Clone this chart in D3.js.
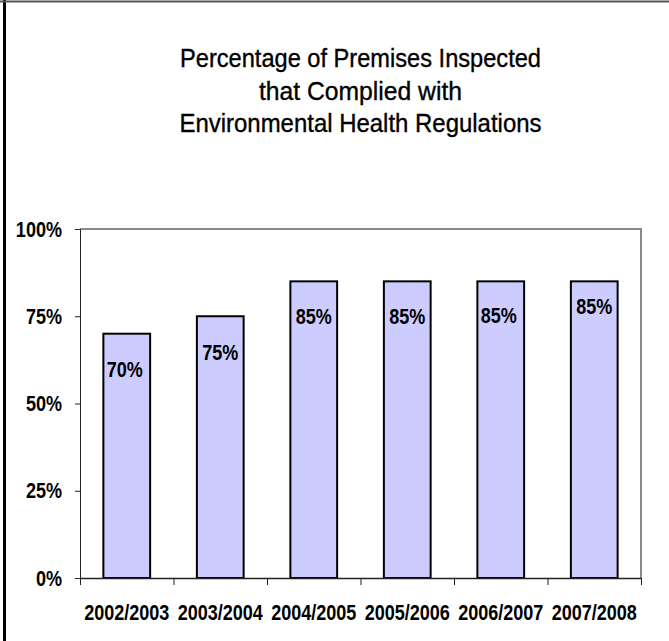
<!DOCTYPE html>
<html>
<head>
<meta charset="utf-8">
<script src="https://cdn.jsdelivr.net/npm/d3@7"></script>
<style>
  html, body { margin: 0; padding: 0; background: #fff; }
  svg { display: block; }
</style>
</head>
<body>
<svg id="chart" width="669" height="641"></svg>
<script>
const categories = ["2002/2003", "2003/2004", "2004/2005", "2005/2006", "2006/2007", "2007/2008"];
const values = [70, 75, 85, 85, 85, 85];
const yTicks = [0, 25, 50, 75, 100];
const titleLines = ["Percentage of Premises Inspected", "that Complied with", "Environmental Health Regulations"];

const W = 669, H = 641;
const plot = { left: 80, right: 641, top: 229, bottom: 578 };
const fontFam = "'Liberation Sans Narrow', 'Arial Narrow', 'Liberation Sans', Arial, sans-serif";
const NARROW = 0.82;

const svg = d3.select("#chart");

// outer frame (left and top edges)
svg.append("line").attr("x1", 4.5).attr("x2", 4.5).attr("y1", 0).attr("y2", H)
  .attr("stroke", "#000").attr("stroke-width", 3);
svg.append("line").attr("x1", 0).attr("x2", W).attr("y1", 1.5).attr("y2", 1.5)
  .attr("stroke", "#555").attr("stroke-width", 2);

// title
const titleBaselines = [67, 99.5, 132];
const titleWidths = [361, 203, 362];
svg.append("g").selectAll("text").data(titleLines).join("text")
  .attr("x", (plot.left + plot.right) / 2)
  .attr("y", (d, i) => titleBaselines[i])
  .attr("text-anchor", "middle")
  .attr("textLength", (d, i) => titleWidths[i])
  .attr("lengthAdjust", "spacingAndGlyphs")
  .style("font-family", fontFam)
  .style("font-size", "25px")
  .style("stroke", "#000")
  .style("stroke-width", 0.35)
  .style("fill", "#000")
  .text(d => d);

const x = d3.scaleBand().domain(categories).range([plot.left, plot.right]).paddingInner(0.5).paddingOuter(0.25);
const y = d3.scaleLinear().domain([0, 100]).range([plot.bottom, plot.top]);

// plot frame: top & right gray
svg.append("path")
  .attr("d", `M${plot.left},${plot.top}H${plot.right}V${plot.bottom}`)
  .attr("fill", "none").attr("stroke", "#8a8a8a").attr("stroke-width", 2);

// bars
svg.append("g").selectAll("rect").data(values).join("rect")
  .attr("x", (d, i) => x(categories[i]))
  .attr("y", d => y(d))
  .attr("width", x.bandwidth())
  .attr("height", d => y(0) - y(d))
  .attr("fill", "#ccccff")
  .attr("stroke", "#000")
  .attr("stroke-width", 2);

// value labels inside bars (condensed via horizontal scale)
const labelDy = [36, 36, 35, 35, 34, 25];
svg.append("g").selectAll("text").data(values).join("text")
  .attr("transform", (d, i) => {
    const cx = x(categories[i]) + x.bandwidth() / 2 - (i === 0 || i === 4 ? 2 : 0);
    return `translate(${cx},${y(d) + labelDy[i]}) scale(${NARROW},1)`;
  })
  .attr("text-anchor", "middle")
  .attr("dominant-baseline", "central")
  .style("font-family", fontFam)
  .style("font-weight", "bold")
  .style("font-size", "22px")
  .style("fill", "#000")
  .text(d => d + "%");

// y axis
const yAxis = d3.axisLeft(y).tickValues(yTicks).tickFormat(d => d + "%").tickSize(5).tickPadding(13);
const gy = svg.append("g").attr("transform", `translate(${plot.left},0)`).call(yAxis);
gy.select(".domain").attr("stroke", "#222");
gy.selectAll(".tick line").attr("stroke", "#222");
gy.selectAll(".tick text")
  .attr("x", null)
  .attr("transform", `translate(-18,0) scale(${NARROW},1)`)
  .style("font-family", fontFam).style("font-weight", "bold").style("font-size", "22px").style("fill", "#000");

// x axis with ticks at category boundaries
const xLin = d3.scaleLinear().domain([0, categories.length]).range([plot.left, plot.right]);
const gx = svg.append("g").attr("transform", `translate(0,${plot.bottom})`)
  .call(d3.axisBottom(xLin).tickValues(d3.range(categories.length + 1)).tickFormat("").tickSize(7).tickSizeOuter(0));
gx.select(".domain").attr("stroke", "#222").attr("stroke-width", 1.5);
gx.selectAll(".tick line").attr("stroke", "#222");

svg.append("g").selectAll("text").data(categories).join("text")
  .attr("transform", d => `translate(${x(d) + x.bandwidth() / 2},620) scale(${NARROW},1)`)
  .attr("text-anchor", "middle")
  .style("font-family", fontFam)
  .style("font-weight", "bold")
  .style("font-size", "22px")
  .style("fill", "#000")
  .text(d => d);
</script>
</body>
</html>
